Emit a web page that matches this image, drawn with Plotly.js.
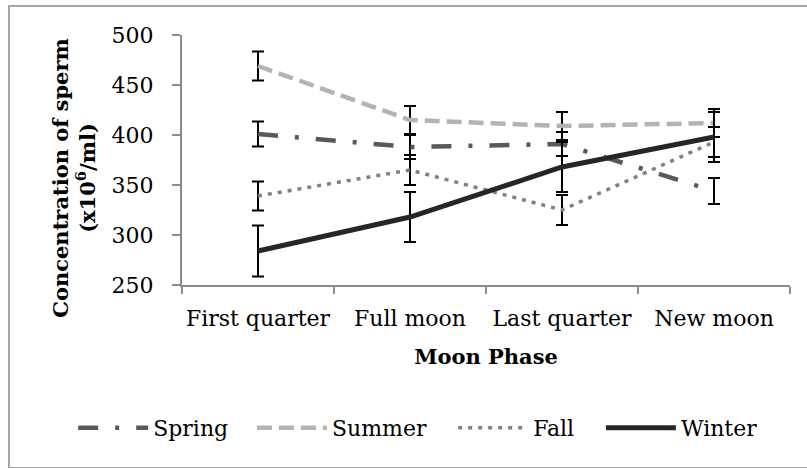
<!DOCTYPE html>
<html>
<head>
<meta charset="utf-8">
<script src="https://cdn.plot.ly/plotly-3.0.1.min.js"></script>
<style>
  html, body { margin: 0; padding: 0; background: #fff; }
  #chart { position: absolute; left: 0; top: 0; width: 807px; height: 468px; }
  #frame { position: absolute; left: 8px; top: 5px; width: 820px; height: 460px;
           border: 2px solid #a6a6a6; pointer-events: none; }
</style>
</head>
<body>
<div id="chart"></div>
<div id="frame"></div>
<script>
const phases = ["First quarter", "Full moon", "Last quarter", "New moon"];
const seriesNames = ["Spring", "Summer", "Fall", "Winter"];
const spring = [401, 388, 391, 344];
const springErr = [12.5, 12, 12, 13];
const summer = [469, 415, 409, 412];
const summerErr = [14.5, 14, 14, 14];
const fall = [339, 365, 325, 393];
const fallErr = [14.5, 15, 15, 15];
const winter = [284, 318, 368, 398];
const winterErr = [25.5, 25, 25, 25];
const yTicks = [250, 300, 350, 400, 450, 500];
const xTitle = "Moon Phase";
const yTitle = "Concentration of sperm<br>(x10<sup>6</sup>/ml)";

const FONT = "DejaVu Serif, Liberation Serif, serif";

function mk(name, y, err, color, width, dash, legendId) {
  return {
    type: "scatter", mode: "lines", name: name, x: phases, y: y,
    legend: legendId,
    line: { color: color, width: width, dash: dash },
    error_y: { type: "data", array: err, visible: true, color: "#000000", thickness: 2, width: 6 }
  };
}

const data = [
  mk(seriesNames[0], spring, springErr, "#595959", 4.5, "20px,17px,4px,17px", "legend"),
  mk(seriesNames[1], summer, summerErr, "#b3b3b3", 4.5, "15px,7px", "legend2"),
  mk(seriesNames[2], fall, fallErr, "#808080", 3.5, "4px,6px", "legend3"),
  mk(seriesNames[3], winter, winterErr, "#262626", 5, "solid", "legend4")
];

function leg(x) {
  return {
    orientation: "h", x: x, xanchor: "left", y: -0.572, yanchor: "middle",
    font: { family: FONT, size: 22, color: "#000" }, itemwidth: 70,
    bgcolor: "rgba(0,0,0,0)"
  };
}

const layout = {
  width: 807, height: 468,
  margin: { l: 182, r: 17, t: 35, b: 183, pad: 0 },
  paper_bgcolor: "rgba(0,0,0,0)", plot_bgcolor: "rgba(0,0,0,0)",
  font: { family: FONT, size: 22, color: "#000" },
  showlegend: true,
  legend: leg(-0.179),
  legend2: leg(0.115),
  legend3: leg(0.446),
  legend4: leg(0.689),
  xaxis: {
    type: "category", range: [-0.5, 3.5], tickson: "boundaries", ticks: "outside", ticklen: 7, tickwidth: 2,
    tickcolor: "#8c8c8c", showline: true, linecolor: "#8c8c8c", linewidth: 2,
    showgrid: false, zeroline: false, ticklabelstandoff: 13, tickangle: 0,
    tickfont: { family: FONT, size: 22, color: "#000" },
    title: { text: xTitle, font: { family: FONT, size: 21, weight: "bold", color: "#000" }, standoff: 19 }
  },
  yaxis: {
    range: [250, 500], tickvals: yTicks, ticks: "outside", ticklen: 8, tickwidth: 2,
    tickcolor: "#8c8c8c", showline: true, linecolor: "#8c8c8c", linewidth: 2,
    showgrid: false, zeroline: false, ticklabelstandoff: 14,
    tickfont: { family: FONT, size: 22, color: "#000" }
  },
  annotations: [{
    text: yTitle, textangle: -90, showarrow: false,
    xref: "paper", yref: "paper", x: -0.178, y: 0.428, xanchor: "center", yanchor: "middle",
    font: { family: FONT, size: 21, weight: "bold", color: "#000" }
  }]
};

Plotly.newPlot("chart", data, layout, { displayModeBar: false, staticPlot: true });
</script>
</body>
</html>
